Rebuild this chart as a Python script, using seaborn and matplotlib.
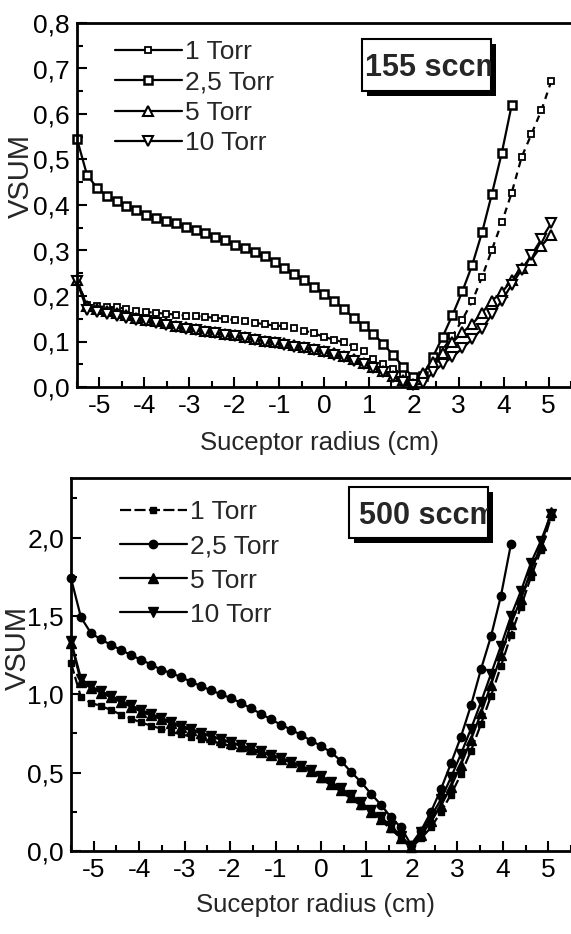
import pandas as pd
import seaborn as sns
import matplotlib
matplotlib.use("Agg")
import matplotlib.pyplot as plt
from matplotlib.lines import Line2D
from matplotlib.patches import Rectangle
from matplotlib.ticker import MultipleLocator, FuncFormatter

# susceptor radius grid (cm)
radius = [-5.50, -5.28, -5.06, -4.84, -4.62, -4.40, -4.18, -3.96, -3.74, -3.52,
          -3.30, -3.08, -2.86, -2.64, -2.42, -2.20, -1.98, -1.76, -1.54, -1.32,
          -1.10, -0.88, -0.66, -0.44, -0.22, 0.00, 0.22, 0.44, 0.66, 0.88,
          1.10, 1.32, 1.54, 1.76, 1.98, 2.20, 2.42, 2.64, 2.86, 3.08,
          3.30, 3.52, 3.74, 3.96, 4.18, 4.40, 4.62, 4.84, 5.06]

labels = ["1 Torr", "2,5 Torr", "5 Torr", "10 Torr"]

# 155 sccm
top_1 = [0.235, 0.180, 0.177, 0.176, 0.175, 0.172, 0.168, 0.165, 0.163, 0.161,
         0.159, 0.157, 0.156, 0.154, 0.152, 0.150, 0.147, 0.144, 0.141, 0.138,
         0.135, 0.134, 0.130, 0.124, 0.118, 0.110, 0.104, 0.098, 0.089, 0.080,
         0.062, 0.050, 0.040, 0.028, 0.012, 0.020, 0.050, 0.082, 0.112, 0.148,
         0.188, 0.242, 0.302, 0.362, 0.427, 0.505, 0.556, 0.608, 0.672]
top_25 = [0.545, 0.467, 0.438, 0.420, 0.408, 0.397, 0.388, 0.378, 0.372, 0.365,
          0.360, 0.352, 0.345, 0.338, 0.330, 0.322, 0.313, 0.305, 0.296, 0.287,
          0.275, 0.262, 0.248, 0.235, 0.220, 0.205, 0.190, 0.172, 0.152, 0.135,
          0.117, 0.095, 0.070, 0.045, 0.022, 0.025, 0.065, 0.110, 0.158, 0.210,
          0.268, 0.340, 0.425, 0.515, 0.620]
top_5 = [0.235, 0.178, 0.172, 0.166, 0.162, 0.158, 0.152, 0.148, 0.144, 0.140,
         0.135, 0.131, 0.128, 0.124, 0.121, 0.117, 0.114, 0.110, 0.106, 0.102,
         0.099, 0.096, 0.092, 0.088, 0.084, 0.079, 0.074, 0.068, 0.061, 0.053,
         0.045, 0.035, 0.025, 0.015, 0.006, 0.030, 0.055, 0.075, 0.098, 0.120,
         0.138, 0.163, 0.190, 0.208, 0.235, 0.262, 0.280, 0.310, 0.335]
top_10 = [0.232, 0.170, 0.164, 0.160, 0.156, 0.152, 0.148, 0.144, 0.140, 0.136,
          0.132, 0.128, 0.125, 0.121, 0.118, 0.114, 0.111, 0.107, 0.104, 0.100,
          0.096, 0.093, 0.089, 0.085, 0.081, 0.076, 0.071, 0.065, 0.058, 0.050,
          0.042, 0.032, 0.022, 0.012, 0.004, 0.008, 0.032, 0.050, 0.066, 0.085,
          0.105, 0.128, 0.160, 0.190, 0.225, 0.258, 0.290, 0.325, 0.360]

# 500 sccm
bot_1 = [1.20, 0.98, 0.945, 0.925, 0.90, 0.87, 0.845, 0.82, 0.80, 0.78,
         0.76, 0.745, 0.73, 0.715, 0.70, 0.685, 0.67, 0.655, 0.64, 0.625,
         0.61, 0.59, 0.565, 0.535, 0.505, 0.46, 0.42, 0.38, 0.335, 0.29,
         0.245, 0.195, 0.14, 0.08, 0.02, 0.08, 0.15, 0.25, 0.36, 0.49,
         0.64, 0.81, 0.99, 1.18, 1.38, 1.56, 1.75, 1.92, 2.13]
bot_25 = [1.74, 1.49, 1.39, 1.35, 1.315, 1.283, 1.25, 1.22, 1.19, 1.157,
          1.135, 1.11, 1.08, 1.052, 1.025, 1.00, 0.975, 0.945, 0.91, 0.875,
          0.84, 0.805, 0.775, 0.74, 0.705, 0.67, 0.63, 0.575, 0.505, 0.44,
          0.365, 0.295, 0.215, 0.15, 0.04, 0.13, 0.25, 0.395, 0.56, 0.73,
          0.93, 1.16, 1.37, 1.63, 1.96]
bot_5 = [1.33, 1.08, 1.04, 1.01, 0.98, 0.95, 0.92, 0.89, 0.865, 0.84,
         0.815, 0.79, 0.77, 0.75, 0.73, 0.71, 0.69, 0.67, 0.65, 0.63,
         0.61, 0.59, 0.565, 0.54, 0.51, 0.47, 0.43, 0.39, 0.345, 0.30,
         0.25, 0.205, 0.15, 0.085, 0.025, 0.10, 0.19, 0.29, 0.41, 0.55,
         0.71, 0.88, 1.06, 1.25, 1.45, 1.61, 1.79, 1.95, 2.16]
bot_10 = [1.34, 1.10, 1.05, 1.02, 0.99, 0.96, 0.93, 0.90, 0.875, 0.85,
          0.825, 0.80, 0.78, 0.755, 0.735, 0.715, 0.695, 0.675, 0.655, 0.635,
          0.615, 0.595, 0.57, 0.545, 0.515, 0.48, 0.44, 0.40, 0.355, 0.31,
          0.26, 0.215, 0.16, 0.095, 0.03, 0.12, 0.22, 0.33, 0.47, 0.62,
          0.78, 0.95, 1.13, 1.31, 1.50, 1.66, 1.84, 1.98, 2.15]

W, H = 571, 934

sns.set_style("ticks")
plt.rcParams["font.family"] = ["Liberation Sans", "DejaVu Sans"]
plt.rcParams["axes.unicode_minus"] = False


def comma(v, pos):
    return f"{v:.1f}".replace(".", ",")


def draw_panel(ax, series, styles, legend_styles):
    for vals, lab, st in zip(series, labels, styles):
        df = pd.DataFrame({"radius": radius[:len(vals)], "vsum": vals})
        sns.lineplot(data=df, x="radius", y="vsum", ax=ax, color="black",
                     lw=1.6, clip_on=False, sort=False, estimator=None, **st)
    handles = [Line2D([], [], color="black", lw=1.6, **st) for st in legend_styles]
    return handles


def style_axes(ax, ymax, ymajor, yminor):
    ax.set_xlim(-5.5, 5.5)
    ax.set_ylim(0, ymax)
    ax.xaxis.set_major_locator(MultipleLocator(1))
    ax.xaxis.set_minor_locator(MultipleLocator(0.5))
    ax.yaxis.set_major_locator(MultipleLocator(ymajor))
    ax.yaxis.set_minor_locator(MultipleLocator(yminor))
    ax.yaxis.set_major_formatter(FuncFormatter(comma))
    ax.xaxis.set_major_formatter(FuncFormatter(lambda v, p: f"{v:.0f}"))
    ax.tick_params(which="both", direction="in", width=1.5, labelsize=19,
                   top=False, right=False, colors="black")
    ax.tick_params(which="major", length=7, pad=5)
    ax.tick_params(which="minor", length=4)
    ax.spines["right"].set_visible(False)
    for s in ["left", "top", "bottom"]:
        ax.spines[s].set_linewidth(2)
        ax.spines[s].set_color("black")
    ax.set_xlabel("Suceptor radius (cm)", fontsize=18.5)
    ax.set_ylabel("VSUM", fontsize=21)


def sccm_box(fig, x0, y0, x1, y1, text, tx):
    shadow = Rectangle((x0 / W + 5 / W, 1 - (y1 + 5) / H), (x1 - x0) / W, (y1 - y0) / H,
                       transform=fig.transFigure, facecolor="black", edgecolor="none")
    box = Rectangle((x0 / W, 1 - y1 / H), (x1 - x0) / W, (y1 - y0) / H,
                    transform=fig.transFigure, facecolor="white", edgecolor="black", lw=1.5)
    fig.add_artist(shadow)
    fig.add_artist(box)
    t = fig.text(tx / W, 1 - (y0 + y1) / 2 / H, text, fontsize=22, fontweight="bold",
                 ha="left", va="center_baseline")
    t.set_clip_path(box)


fig = plt.figure(figsize=(W / 100, H / 100), dpi=100)
ax_top = fig.add_axes([77 / W, 1 - 387 / H, 1 - 77 / W, 364 / H])
ax_bot = fig.add_axes([71 / W, 1 - 851 / H, 1 - 71 / W, 373 / H])

open_styles = [
    dict(marker="s", ms=4, mfc="white", mec="black", mew=1.3, ls=(0, (3, 2.5))),
    dict(marker="s", ms=5.5, mfc="white", mec="black", mew=1.8, ls="-"),
    dict(marker="^", ms=7, mfc="white", mec="black", mew=1.5, ls="-"),
    dict(marker="v", ms=7, mfc="white", mec="black", mew=1.5, ls="-"),
]
open_legend = [dict(st, ls="-") for st in open_styles]
h_top = draw_panel(ax_top, [top_1, top_25, top_5, top_10], open_styles, open_legend)
style_axes(ax_top, 0.8, 0.1, 0.05)
ax_top.legend(h_top, labels, loc="upper left", bbox_to_anchor=(0.055, 0.982),
              borderaxespad=0, frameon=False, fontsize=19, handlelength=2.55,
              handletextpad=0.12, labelspacing=0.24)
ax_top.xaxis.set_label_coords(0.49, -0.122)
ax_top.yaxis.set_label_coords(-0.085, 0.58)

filled_styles = [
    dict(marker="s", ms=4.5, mfc="black", mec="black", mew=1, ls=(0, (5, 1.5))),
    dict(marker="o", ms=6, mfc="black", mec="black", mew=1, ls="-"),
    dict(marker="^", ms=6.5, mfc="black", mec="black", mew=1, ls="-"),
    dict(marker="v", ms=6.5, mfc="black", mec="black", mew=1, ls="-"),
]
h_bot = draw_panel(ax_bot, [bot_1, bot_25, bot_5, bot_10], filled_styles, filled_styles)
style_axes(ax_bot, 2.38, 0.5, 0.25)
ax_bot.legend(h_bot, labels, loc="upper left", bbox_to_anchor=(0.076, 0.968),
              borderaxespad=0, frameon=False, fontsize=19, handlelength=2.55,
              handletextpad=0.12, labelspacing=0.38)
ax_bot.xaxis.set_label_coords(0.49, -0.112)
ax_bot.yaxis.set_label_coords(-0.078, 0.545)

sccm_box(fig, 362, 39, 491, 91, "155 sccm", 365)
sccm_box(fig, 349, 487, 488, 538, "500 sccm", 359)

fig.savefig("out.png", dpi=100)
